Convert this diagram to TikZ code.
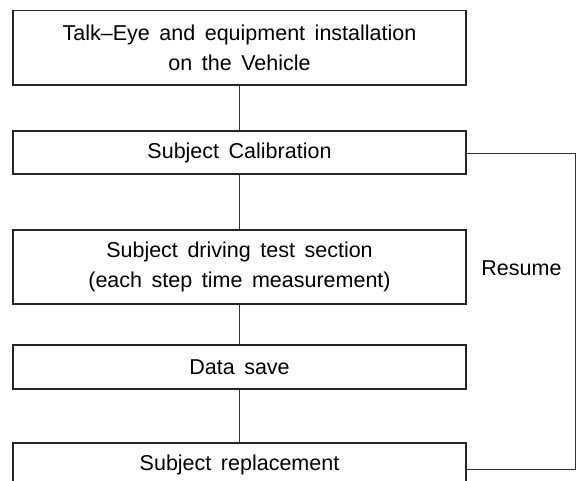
\documentclass[tikz,border=0pt]{standalone}
\usepackage{fontspec}
\setmainfont[WordSpace=1.6]{Liberation Sans}
\begin{document}
\begin{tikzpicture}[x=1pt,y=-1pt,
  stepbox/.style={draw=black!85, line width=1.1pt, minimum width=453pt, inner sep=0pt, align=center, font=\fontsize{21.5}{30}\selectfont},
  link/.style={draw=black!80, line width=0.8pt},
  lbl/.style={font=\fontsize{21.5}{30}\selectfont}]
\useasboundingbox (0,0) rectangle (576,481);
\node[stepbox, minimum height=74.5pt] (top) at (239.5,47.75) {Talk–Eye and equipment installation\\on the Vehicle};
\node[stepbox, minimum height=43pt] (calib) at (239.5,152.5) {Subject Calibration};
\node[stepbox, minimum height=74pt] (drive) at (239.5,267) {Subject driving test section\\(each step time measurement)};
\node[stepbox, minimum height=44pt] (save) at (239.5,367) {Data save};
\node[stepbox, minimum height=44pt] (repl) at (239.5,465) {Subject replacement};
\node[lbl] (resume) at (521.5,268) {Resume};
\coordinate (r1) at (575,153);
\coordinate (r2) at (575,469);
\draw[link] (top) -- (calib);
\draw[link] (calib) -- (drive);
\draw[link] (drive) -- (save);
\draw[link] (save) -- (repl);
\draw[link] (calib.east |- r1) -- (r1) -- (r2) -- (repl.east |- r2);
\end{tikzpicture}
\end{document}
